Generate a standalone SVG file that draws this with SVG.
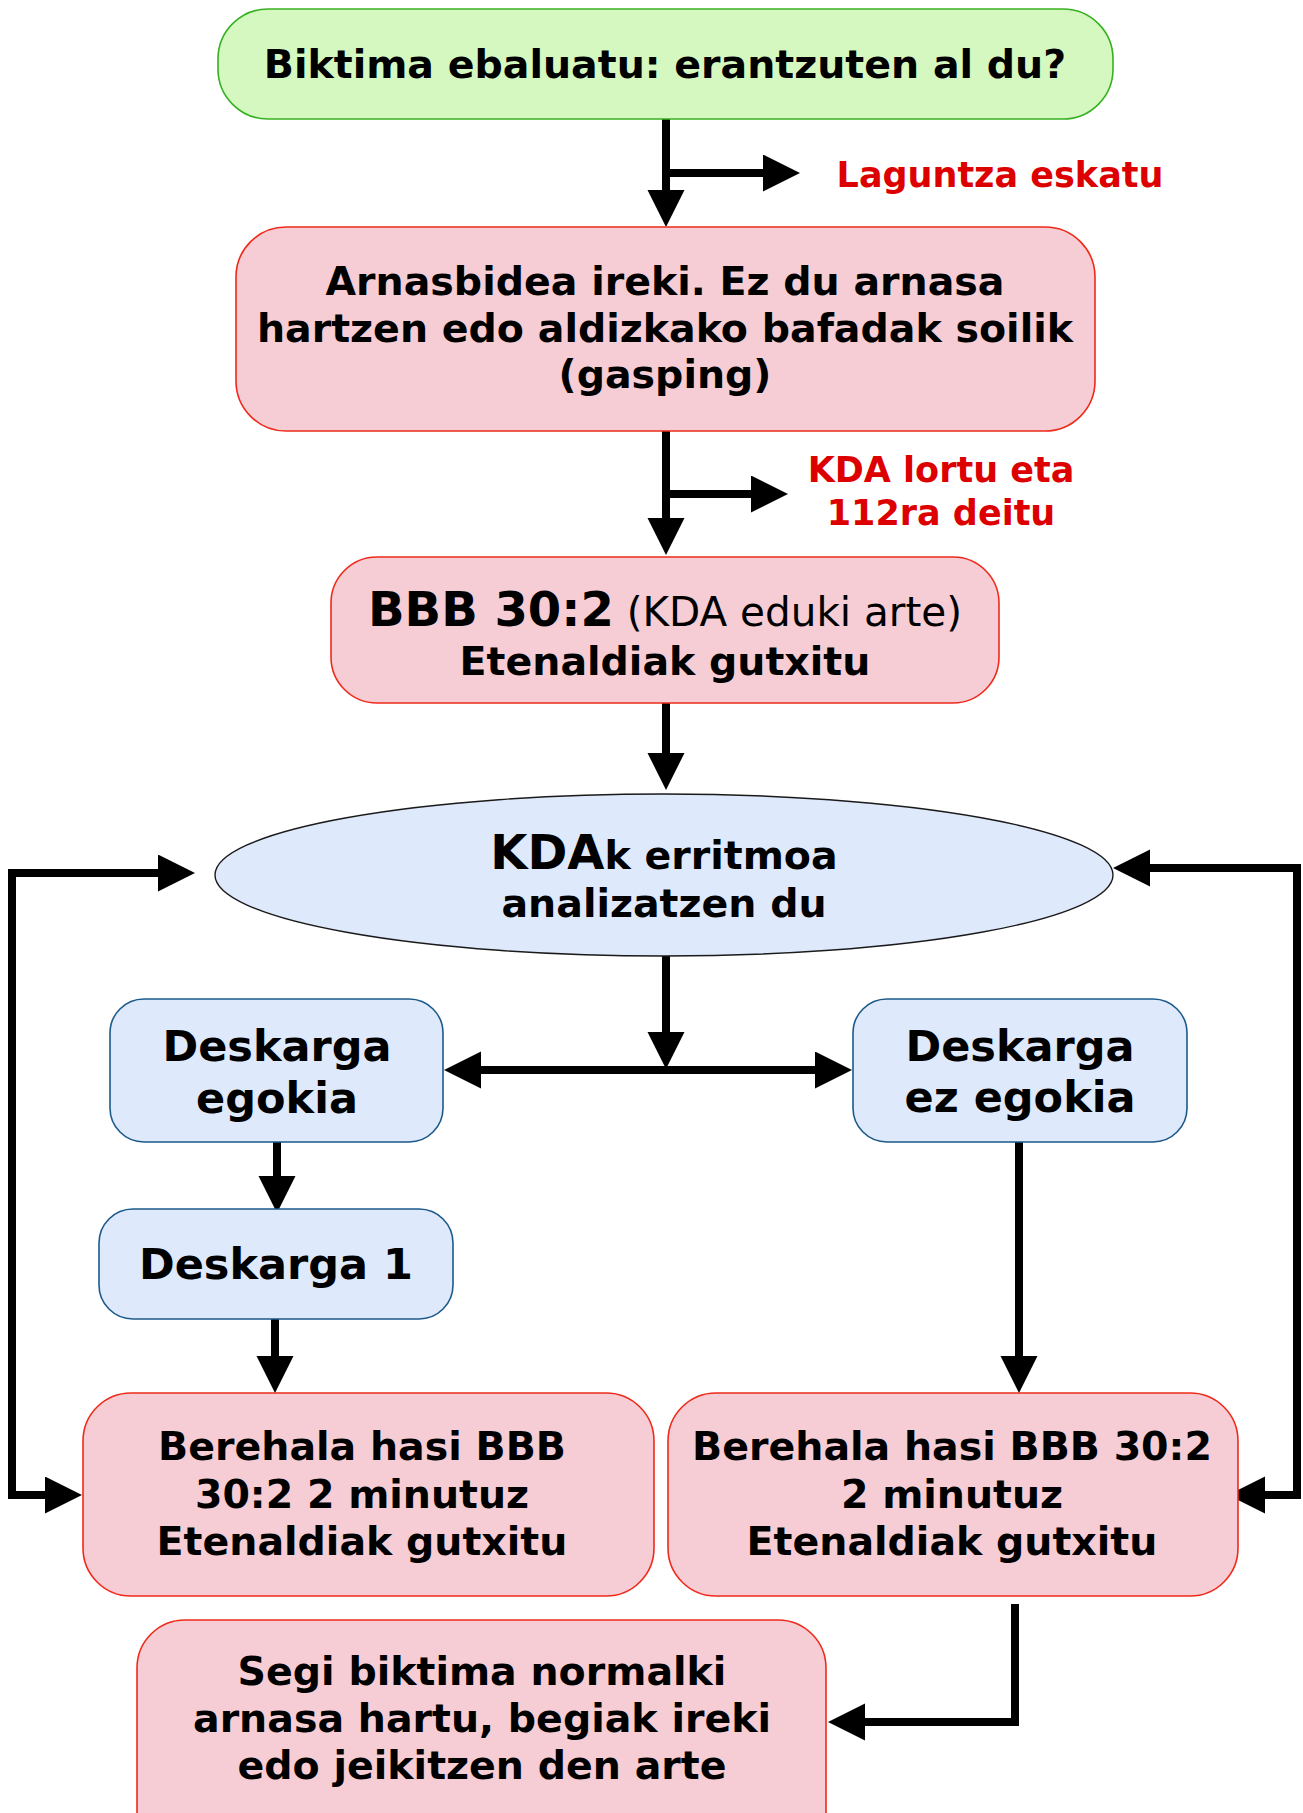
<svg xmlns="http://www.w3.org/2000/svg" width="1303" height="1813" viewBox="0 0 1303 1813">
  <style>
    .t { font-family: "DejaVu Sans", "Verdana", sans-serif; font-weight: bold; font-size: 39.5px; fill: #000; text-anchor: middle; }
    .big { font-size: 43px; }
    .red { font-family: "DejaVu Sans", "Verdana", sans-serif; font-weight: bold; font-size: 35px; fill: #dd0000; text-anchor: middle; }
    .green { fill: #d4f8bf; stroke: #37b121; stroke-width: 1.6; }
    .pink { fill: #f6cdd5; stroke: #ef2a1a; stroke-width: 1.6; }
    .blue { fill: #dfe9fc; stroke: #1c5a8a; stroke-width: 1.6; }
    .conn { fill: none; stroke: #000; stroke-width: 8; stroke-linejoin: miter; stroke-linecap: butt; }
  </style>
  <defs>
    <marker id="head" markerUnits="userSpaceOnUse" markerWidth="38" markerHeight="38" refX="0" refY="18.5" orient="auto-start-reverse" viewBox="0 0 38 38">
      <path d="M0,0 L37,18.5 L0,37 Z" fill="#000"/>
    </marker>
  </defs>

  <rect width="1303" height="1813" fill="#fff"/>

  <!-- connectors -->
  <g id="connectors">
    <path class="conn" d="M666,119 L666,190" marker-end="url(#head)"/>
    <path class="conn" d="M666,173 L763,173" marker-end="url(#head)"/>
    <path class="conn" d="M666,431 L666,518" marker-end="url(#head)"/>
    <path class="conn" d="M666,494 L751,494" marker-end="url(#head)"/>
    <path class="conn" d="M666,703 L666,753" marker-end="url(#head)"/>
    <path class="conn" d="M666,956 L666,1032" marker-end="url(#head)"/>
    <path class="conn" d="M481,1070 L815,1070" marker-start="url(#head)" marker-end="url(#head)"/>
    <path class="conn" d="M277,1142 L277,1176" marker-end="url(#head)"/>
    <path class="conn" d="M275,1319 L275,1356" marker-end="url(#head)"/>
    <path class="conn" d="M1019,1142 L1019,1356" marker-end="url(#head)"/>
    <path class="conn" d="M158,873 L12,873 L12,1495 L45,1495" marker-start="url(#head)" marker-end="url(#head)"/>
    <path class="conn" d="M1150,868 L1297,868 L1297,1495 L1265,1495" marker-start="url(#head)" marker-end="url(#head)"/>
    <path class="conn" d="M1015,1604 L1015,1722 L865,1722" marker-end="url(#head)"/>
  </g>

  <!-- red side notes -->
  <text class="red" x="1000" y="187">Laguntza eskatu</text>
  <text class="red" x="941" y="482">KDA lortu eta</text>
  <text class="red" x="941" y="525">112ra deitu</text>

  <g id="n-ebaluatu">
    <rect class="green" x="218" y="9" width="895" height="110" rx="50" ry="50"/>
    <text class="t" x="665" y="78">Biktima ebaluatu: erantzuten al du?</text>
  </g>

  <g id="n-arnasbidea">
    <rect class="pink" x="236" y="227" width="859" height="204" rx="50" ry="50"/>
    <text class="t" x="665" y="295">Arnasbidea ireki. Ez du arnasa</text>
    <text class="t" x="665" y="342">hartzen edo aldizkako bafadak soilik</text>
    <text class="t" x="665" y="388">(gasping)</text>
  </g>

  <g id="n-bbb">
    <rect class="pink" x="331" y="557" width="668" height="146" rx="46" ry="46"/>
    <text class="t" x="665" y="626"><tspan font-size="48">BBB 30:2</tspan><tspan font-weight="normal" font-size="40.5"> (KDA eduki arte)</tspan></text>
    <text class="t" x="665" y="675">Etenaldiak gutxitu</text>
  </g>

  <g id="n-kda">
    <ellipse cx="664" cy="875" rx="449" ry="81" fill="#dfe9fc" stroke="#1a1a1a" stroke-width="1.4"/>
    <text class="t" x="664" y="869"><tspan font-size="48">KDA</tspan>k erritmoa</text>
    <text class="t" x="664" y="917">analizatzen du</text>
  </g>

  <g id="n-egokia">
    <rect class="blue" x="110" y="999" width="333" height="143" rx="34" ry="34"/>
    <text class="t big" x="277" y="1061">Deskarga</text>
    <text class="t big" x="277" y="1113">egokia</text>
  </g>

  <g id="n-ez-egokia">
    <rect class="blue" x="853" y="999" width="334" height="143" rx="34" ry="34"/>
    <text class="t big" x="1020" y="1061">Deskarga</text>
    <text class="t big" x="1020" y="1112">ez egokia</text>
  </g>

  <g id="n-deskarga1">
    <rect class="blue" x="99" y="1209" width="354" height="110" rx="34" ry="34"/>
    <text class="t big" x="276" y="1279">Deskarga 1</text>
  </g>

  <g id="n-berehala-1">
    <rect class="pink" x="83" y="1393" width="571" height="203" rx="48" ry="48"/>
    <text class="t" x="362" y="1460">Berehala hasi BBB</text>
    <text class="t" x="362" y="1508">30:2 2 minutuz</text>
    <text class="t" x="362" y="1555">Etenaldiak gutxitu</text>
  </g>

  <g id="n-berehala-2">
    <rect class="pink" x="668" y="1393" width="570" height="203" rx="48" ry="48"/>
    <text class="t" x="952" y="1460">Berehala hasi BBB 30:2</text>
    <text class="t" x="952" y="1508">2 minutuz</text>
    <text class="t" x="952" y="1555">Etenaldiak gutxitu</text>
  </g>

  <g id="n-segi">
    <rect class="pink" x="137" y="1620" width="689" height="240" rx="48" ry="48"/>
    <text class="t" x="482" y="1685">Segi biktima normalki</text>
    <text class="t" x="482" y="1732">arnasa hartu, begiak ireki</text>
    <text class="t" x="482" y="1779">edo jeikitzen den arte</text>
  </g>
</svg>
